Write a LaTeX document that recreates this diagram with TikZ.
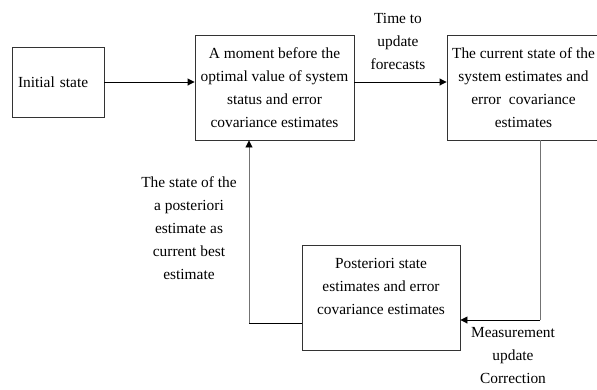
\documentclass[tikz,border=0pt]{standalone}
\usepackage{fontspec}
\setmainfont{Liberation Serif}
\usetikzlibrary{arrows.meta}
\tikzset{
  box/.style={draw=black!80, line width=0.9pt, align=center, inner sep=0pt},
  arrow/.style={line width=0.9pt, -{Triangle[length=7pt,width=7pt,black]}},
  lbl/.style={align=center, inner sep=0pt}
}
\begin{document}
\fontsize{15.4pt}{23pt}\selectfont
\begin{tikzpicture}[x=1pt,y=-1pt]
  \useasboundingbox (0,0) rectangle (597,389);
  % boxes
  \node[box, minimum width=92pt, minimum height=70pt, text width=80pt, align=left] (init) at (58,82) {Initial state};
  \node[box, minimum width=159pt, minimum height=105pt] (prior) at (274.5,87.5)
    {A moment before the\\optimal value of system\\status and error\\covariance estimates};
  \node[box, minimum width=153pt, minimum height=105pt] (curr) at (523.5,87.5)
    {The current state of the\\system estimates and\\error\ \ covariance\\estimates};
  \node[box, minimum width=158pt, minimum height=105pt] (post) at (381,297.5)
    {Posteriori state\\estimates and error\\covariance estimates\\\mbox{}};
  % labels
  \node[lbl] (tlbl) at (398,41) {Time to\\update\\forecasts};
  \node[lbl] (blbl) at (189,228) {The state of the\\a posteriori\\estimate as\\current best\\estimate};
  \node[lbl] (mlbl) at (513,356) {Measurement\\update\\Correction};
  % connectors
  \coordinate (c1) at (540,320);
  \coordinate (c2) at (249,323);
  \draw[arrow] (init.east |- 0,82) -- (prior.west |- 0,82);
  \draw[arrow] (prior.east |- 0,82) -- (curr.west |- 0,82);
  \draw[line width=0.9pt, black!55] (curr.south -| c1) -- (c1);
  \draw[arrow] (c1) -- (post.east |- c1);
  \draw[line width=0.9pt] (post.west |- c2) -- (c2);
  \draw[arrow, black!55] (c2) -- (prior.south -| c2);
\end{tikzpicture}
\end{document}
